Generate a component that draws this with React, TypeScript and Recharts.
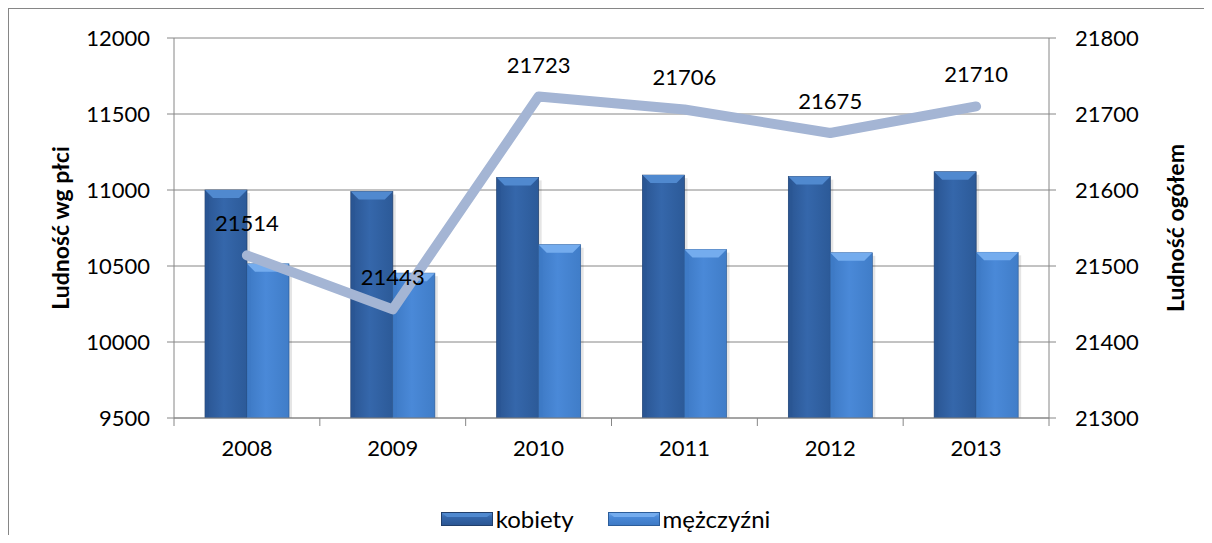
import { ComposedChart, Bar, Line, XAxis, YAxis, CartesianGrid, Legend, LabelList } from "recharts";

const years = ["2008", "2009", "2010", "2011", "2012", "2013"];
const kobiety = [11000, 10990, 11083, 11098, 11088, 11120];
const mezczyzni = [10514, 10453, 10640, 10608, 10587, 10590];
const ogolem = [21514, 21443, 21723, 21706, 21675, 21710];
const leftTicks = [9500, 10000, 10500, 11000, 11500, 12000];
const rightTicks = [21300, 21400, 21500, 21600, 21700, 21800];

const data = years.map((year, i) => ({
    year,
    kobiety: kobiety[i],
    mezczyzni: mezczyzni[i],
    ogolem: ogolem[i],
}));

const W = 1203;
const H = 534;
const PLOT_LEFT = 165;
const PLOT_RIGHT = 1040;
const BAND = (PLOT_RIGHT - PLOT_LEFT) / years.length;
const AXIS = "#868686";
const FONT = "Lato, 'Open Sans', sans-serif";

// bar palettes: body gradient + lighter bevel on top
const PALETTE = {
    k: { left: "#2a5592", mid: "#3567ab", right: "#2c5a98", top: "#5089cf", edge: "#213f6b" },
    m: { left: "#3d79c4", mid: "#4a89d8", right: "#407dc8", top: "#74acee", edge: "#2c5d9a" },
};

function BevelBar(props: any) {
    const { x, y, width, height, kind } = props;
    if (!height || height <= 0) return null;
    const c = PALETTE[kind as "k" | "m"];
    const b = Math.min(8, height / 2);
    return (
        <g>
            <rect x={x + 3} y={y + 3} width={width} height={height} fill="rgba(0,0,0,0.10)" />
            <rect x={x} y={y} width={width} height={height} fill={`url(#grad-${kind})`} stroke={c.edge} strokeWidth={0.7} />
            <polygon
                points={`${x},${y} ${x + width},${y} ${x + width - b},${y + b} ${x + b},${y + b}`}
                fill={c.top}
            />
            <polygon
                points={`${x},${y} ${x + b * 0.5},${y + b} ${x + b * 0.5},${y + height} ${x},${y + height}`}
                fill={c.left}
                opacity={0.6}
            />
        </g>
    );
}

function LegendIcon({ kind }: { kind: "k" | "m" }) {
    const c = PALETTE[kind];
    return (
        <svg width={52} height={14} style={{ display: "block" }}>
            <defs>
                <linearGradient id={`lg-${kind}`} x1="0" y1="0" x2="0" y2="1">
                    <stop offset="0" stopColor={c.top} />
                    <stop offset="0.35" stopColor={c.mid} />
                    <stop offset="1" stopColor={c.left} />
                </linearGradient>
            </defs>
            <rect x={0.5} y={0.5} width={51} height={13} fill={`url(#lg-${kind})`} stroke={c.edge} strokeWidth={1} />
            <polygon points="1,1 51,1 46,5 6,5" fill={c.top} />
        </svg>
    );
}

function LegendContent() {
    const items: { kind: "k" | "m"; label: string }[] = [
        { kind: "k", label: "kobiety" },
        { kind: "m", label: "mężczyźni" },
    ];
    return (
        <div style={{ display: "flex", justifyContent: "center", alignItems: "center", height: 28, fontFamily: FONT, fontSize: 24, lineHeight: "28px", color: "#000", paddingRight: 10 }}>
            {items.map((it, i) => (
                <div key={it.label} style={{ display: "flex", alignItems: "center", marginLeft: i === 0 ? 0 : 34 }}>
                    <LegendIcon kind={it.kind} />
                    <span style={{ marginLeft: 3 }}>{it.label}</span>
                </div>
            ))}
        </div>
    );
}

function XTick(props: any) {
    const { x, y, payload, index } = props;
    const axisY = y - 22;
    const left = x - BAND / 2;
    return (
        <g>
            <line x1={left} x2={left} y1={axisY} y2={axisY + 8} stroke={AXIS} />
            {index === years.length - 1 && (
                <line x1={x + BAND / 2} x2={x + BAND / 2} y1={axisY} y2={axisY + 8} stroke={AXIS} />
            )}
            <text x={x} y={y} dy="0.71em" textAnchor="middle" fill="#000" fontSize={22} fontFamily={FONT}>
                {payload.value}
            </text>
        </g>
    );
}

function AxisTitle({ viewBox, text, dx }: any) {
    const cx = viewBox.x + dx;
    const cy = viewBox.y + viewBox.height / 2;
    return (
        <text
            x={cx}
            y={cy}
            transform={`rotate(-90, ${cx}, ${cy})`}
            textAnchor="middle"
            dominantBaseline="central"
            fontFamily={FONT}
            fontWeight="bold"
            fontSize={23}
            fill="#000"
        >
            {text}
        </text>
    );
}

export default function App() {
    return (
        <div
            style={{
                width: W,
                height: H,
                borderLeft: `1px solid ${AXIS}`,
                borderTop: `1px solid ${AXIS}`,
                background: "#fff",
                marginBottom: -8,
            }}
        >
            <ComposedChart
                width={W}
                height={H}
                data={data}
                margin={{ top: 29, right: 0, bottom: 10, left: 0 }}
                barGap={0}
            >
                <defs>
                    {(["k", "m"] as const).map((k) => (
                        <linearGradient key={k} id={`grad-${k}`} x1="0" y1="0" x2="1" y2="0">
                            <stop offset="0" stopColor={PALETTE[k].left} />
                            <stop offset="0.45" stopColor={PALETTE[k].mid} />
                            <stop offset="1" stopColor={PALETTE[k].right} />
                        </linearGradient>
                    ))}
                </defs>
                <CartesianGrid vertical={false} stroke={AXIS} yAxisId="left" />
                <XAxis
                    dataKey="year"
                    height={87}
                    tickLine={false}
                    tickSize={8}
                    tickMargin={14}
                    stroke={AXIS}
                    tick={<XTick />}
                    interval={0}
                />
                <YAxis
                    yAxisId="left"
                    width={PLOT_LEFT}
                    domain={[9500, 12000]}
                    ticks={leftTicks}
                    allowDataOverflow
                    stroke={AXIS}
                    tickSize={7}
                    tickMargin={17}
                    tick={{ fill: "#000", fontSize: 22, fontFamily: FONT }}
                    label={(p: any) => <AxisTitle {...p} text="Ludność wg płci" dx={51} />}
                />
                <YAxis
                    yAxisId="right"
                    orientation="right"
                    width={W - PLOT_RIGHT}
                    domain={[21300, 21800]}
                    ticks={rightTicks}
                    allowDataOverflow
                    stroke={AXIS}
                    tickSize={7}
                    tickMargin={19}
                    tick={{ fill: "#000", fontSize: 22, fontFamily: FONT, textAnchor: "start" }}
                    label={(p: any) => <AxisTitle {...p} text="Ludność ogółem" dx={126} />}
                />
                <Legend verticalAlign="bottom" content={<LegendContent />} />
                <Bar
                    yAxisId="left"
                    dataKey="kobiety"
                    name="kobiety"
                    barSize={42}
                    shape={(p: any) => <BevelBar {...p} kind="k" />}
                    isAnimationActive={false}
                />
                <Bar
                    yAxisId="left"
                    dataKey="mezczyzni"
                    name="mężczyźni"
                    barSize={42}
                    shape={(p: any) => <BevelBar {...p} kind="m" />}
                    isAnimationActive={false}
                />
                <Line
                    yAxisId="right"
                    dataKey="ogolem"
                    stroke="#a4b5d4"
                    strokeWidth={10}
                    strokeLinecap="round"
                    strokeLinejoin="round"
                    dot={false}
                    activeDot={false}
                    legendType="none"
                    isAnimationActive={false}
                >
                    <LabelList dataKey="ogolem" position="top" offset={24} fill="#000" fontSize={22} fontFamily={FONT} />
                </Line>
            </ComposedChart>
        </div>
    );
}
